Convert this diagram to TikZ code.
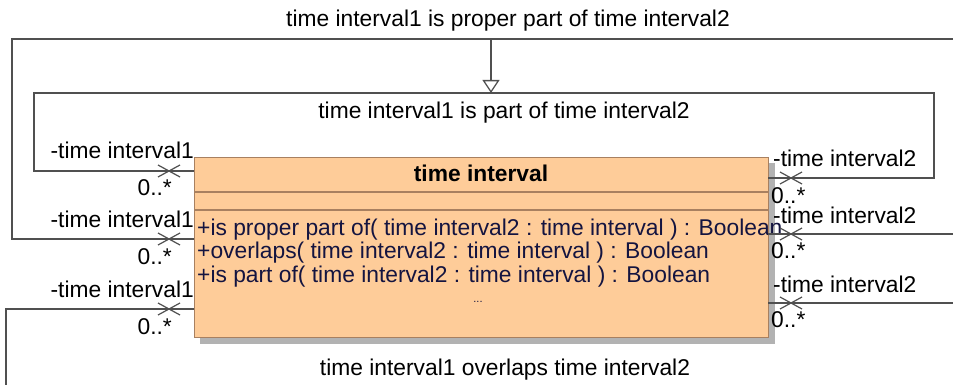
\documentclass[tikz,border=0pt]{standalone}
\usepackage{fontspec}
\setmainfont{Liberation Sans}
\usetikzlibrary{arrows.meta}
\definecolor{peach}{RGB}{254,204,153}
\definecolor{boxborder}{RGB}{168,128,96}
\definecolor{shadowgray}{RGB}{178,178,178}
\definecolor{linegray}{RGB}{80,80,80}
\definecolor{optext}{RGB}{20,20,64}
\begin{document}
\begin{tikzpicture}[x=1pt,y=-1pt,
  lbl/.style={inner sep=0pt, font=\fontsize{22.8}{22.8}\selectfont},
  optxt/.style={lbl, text=optext, anchor=base west},
  conn/.style={draw=linegray, line width=1.3pt},
  xmark/.style={draw=linegray, line width=1.2pt},
  gen/.style={conn, -{Triangle[open, length=13pt, width=17pt]}},
  classbox/.style={draw=boxborder, fill=peach, line width=1.4pt, inner sep=0pt,
    minimum width=574pt, minimum height=180pt, anchor=north west},
  sep/.style={draw=boxborder, line width=1.4pt}
  ]
\useasboundingbox (0,0) rectangle (953,385);

% class box with shadow
\fill[shadowgray] (200,163) rectangle (775,344);
\node[classbox] (cls) at (194,157) {};
\coordinate (s1l) at (194,192); \coordinate (s1r) at (768,192);
\coordinate (s2l) at (194,210); \coordinate (s2r) at (768,210);
\draw[sep] (s1l) -- (s1r);
\draw[sep] (s2l) -- (s2r);
\node[lbl, anchor=base, font=\fontsize{22.8}{22.8}\selectfont\bfseries] (name) at (481,182) {time interval};
\node[optxt] (op1) at (197,235) {+is proper part of( time interval2 : time interval ) : Boolean};
\node[optxt] (op2) at (197,258.5) {+overlaps( time interval2 : time interval ) : Boolean};
\node[optxt] (op3) at (197,282) {+is part of( time interval2 : time interval ) : Boolean};
\node[inner sep=0pt, anchor=base, text=optext, font=\fontsize{11}{11}\selectfont] (dots) at (478,302) {...};

% connector end points on the class box
\coordinate (L1) at (194,171); \coordinate (L2) at (194,239); \coordinate (L3) at (194,309);
\coordinate (R1) at (768,178); \coordinate (R2) at (768,234); \coordinate (R3) at (768,303);

% association: is part of
\coordinate (pa) at (34,171); \coordinate (pb) at (34,93);
\coordinate (pc) at (934,93); \coordinate (pd) at (934,178);
\draw[conn] (L1) -- (pa) -- (pb) -- (pc) -- (pd) -- (R1);

% association: is proper part of
\coordinate (qa) at (12,239); \coordinate (qb) at (12,39);
\coordinate (qc) at (953,39); \coordinate (qd) at (953,234);
\draw[conn] (L2) -- (qa) -- (qb) -- (qc);
\draw[conn] (R2) -- (qd);

% association: overlaps
\coordinate (oa) at (6,309); \coordinate (ob) at (6,385);
\coordinate (oc) at (953,303);
\draw[conn] (L3) -- (oa) -- (ob);
\draw[conn] (R3) -- (oc);

% generalization between associations
\coordinate (gtop) at (491,39); \coordinate (gbot) at (491,93);
\draw[gen] (gtop) -- (gbot);

% non-navigable end marks
\foreach \c/\x/\y in {xl1/169/171, xl2/169/239, xl3/169/309, xr1/791/178, xr2/791/234, xr3/791/303}{
  \coordinate (\c) at (\x,\y);
  \draw[xmark] ([shift={(-11,-6)}]\c) -- ([shift={(11,6)}]\c);
  \draw[xmark] ([shift={(-11,6)}]\c) -- ([shift={(11,-6)}]\c);
}

% association names
\node[lbl, anchor=base] (t1) at (508,27) {time interval1 is proper part of time interval2};
\node[lbl, anchor=base] (t2) at (504,119) {time interval1 is part of time interval2};
\node[lbl, anchor=base] (t3) at (505,375) {time interval1 overlaps time interval2};

% role names and multiplicities, left
\node[lbl, anchor=base east] (rl1) at (194,158) {-time interval1};
\node[lbl, anchor=base east] (rl2) at (194,227) {-time interval1};
\node[lbl, anchor=base east] (rl3) at (194,297) {-time interval1};
\node[lbl, anchor=base east] (ml1) at (172,195) {0..*};
\node[lbl, anchor=base east] (ml2) at (172,264) {0..*};
\node[lbl, anchor=base east] (ml3) at (172,334) {0..*};

% role names and multiplicities, right
\node[lbl, anchor=base west] (rr1) at (773,167) {-time interval2};
\node[lbl, anchor=base west] (rr2) at (773,223) {-time interval2};
\node[lbl, anchor=base west] (rr3) at (773,292) {-time interval2};
\node[lbl, anchor=base west] (mr1) at (771,203) {0..*};
\node[lbl, anchor=base west] (mr2) at (771,258) {0..*};
\node[lbl, anchor=base west] (mr3) at (771,327) {0..*};
\end{tikzpicture}
\end{document}
